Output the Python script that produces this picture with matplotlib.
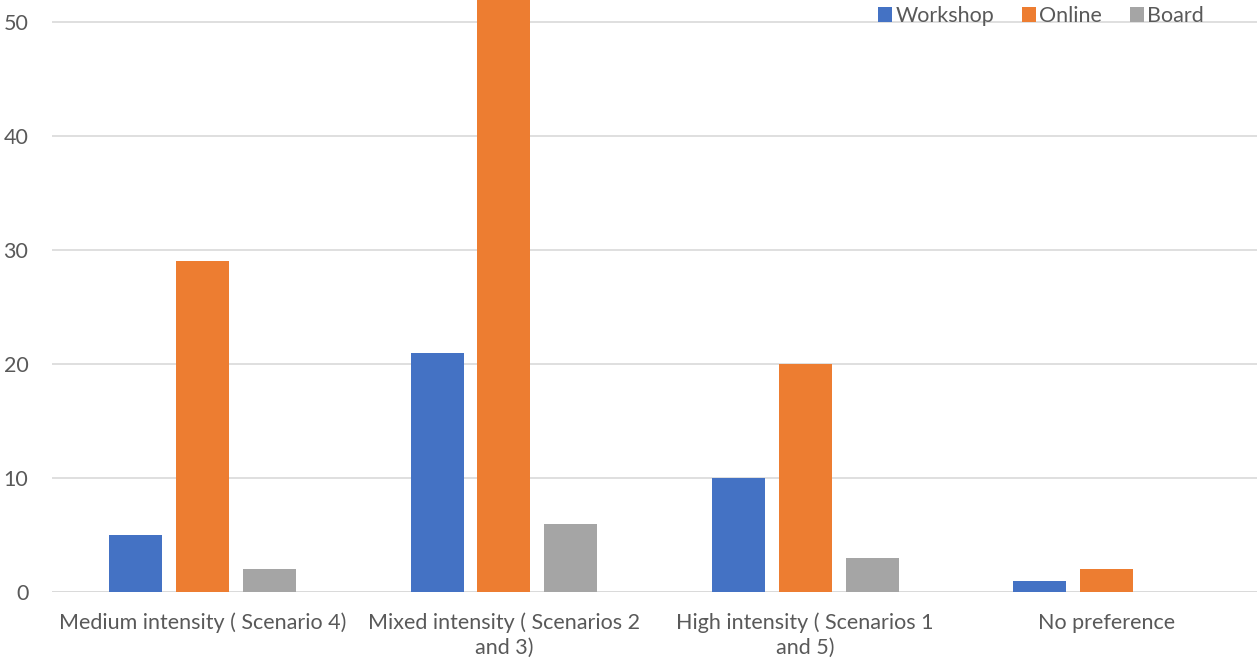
import numpy as np
import matplotlib.pyplot as plt

categories = ["Medium intensity ( Scenario 4)", "Mixed intensity ( Scenarios 2\nand 3)",
              "High intensity ( Scenarios 1\nand 5)", "No preference"]
series = ["Workshop", "Online", "Board"]
workshop = [5, 21, 10, 1]
online = [29, 56, 20, 2]
board = [2, 6, 3, 0]
colors = ["#4472C4", "#ED7D31", "#A5A5A5"]

plt.rcParams['font.family'] = ['Lato', 'DejaVu Sans']
text_color = "#595959"

fig = plt.figure(figsize=(12.57, 6.68), dpi=100)
ax = fig.add_axes([0.0414, 0.1138, 0.9586, 0.8862])

x = np.arange(len(categories))
w = 0.176
step = 0.222
for i, (vals, name) in enumerate(zip([workshop, online, board], series)):
    ax.bar(x + (i - 1) * step, vals, width=w, color=colors[i], label=name, zorder=3)

ax.set_xlim(-0.5, len(categories) - 0.5)
ax.set_ylim(0, 51.93)
ax.set_yticks(range(0, 51, 10))
ax.yaxis.grid(True, color="#D9D9D9", linewidth=1.2, zorder=0)
ax.set_axisbelow(True)
for s in ["top", "right", "left", "bottom"]:
    ax.spines[s].set_visible(False)
ax.axhline(0, color="#D9D9D9", linewidth=1.2, zorder=1)
ax.tick_params(axis="x", length=0, labelsize=15.5, colors=text_color, pad=15)
ax.tick_params(axis="y", length=0, labelsize=15.5, colors=text_color, pad=17)
ax.set_xticks(x)
ax.set_xticklabels(categories, linespacing=1.25)
for t in ax.get_xticklabels() + ax.get_yticklabels():
    t.set_color(text_color)

leg = fig.legend(loc="center right", bbox_to_anchor=(0.958, 1 - 16 / 668), ncol=3, frameon=False,
                 fontsize=15.5, handlelength=0.65, handleheight=0.65, handletextpad=0.15,
                 columnspacing=1.3, borderaxespad=0, borderpad=0)
for t in leg.get_texts():
    t.set_color(text_color)

fig.savefig("out.png", dpi=100)
